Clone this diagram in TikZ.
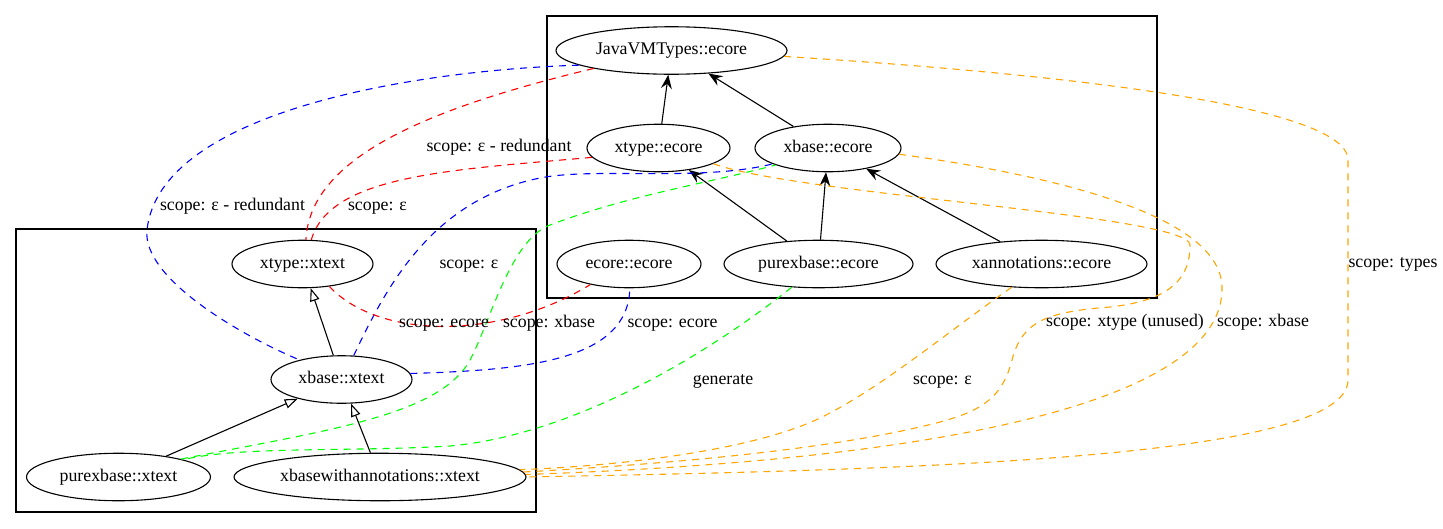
\documentclass[tikz,border=0pt]{standalone}
\usepackage{fontspec}
\setmainfont{Liberation Serif}
\usetikzlibrary{arrows.meta,shapes.geometric}

\definecolor{gvgreen}{RGB}{0,255,0}
\definecolor{gvorange}{RGB}{255,165,0}

\begin{document}
\begin{tikzpicture}[x=1pt,y=-1pt,
        font=\fontsize{17.8}{20}\selectfont,
        every node/.style={inner sep=0pt,text height=12.5pt,text depth=4pt},
        mod/.style={ellipse,draw,line width=1.1pt,minimum height=47.5pt},
        uses/.style={-{Stealth[length=14pt,width=11pt,inset=5pt]},line width=1.1pt},
        extends/.style={-{Triangle[open,length=13pt,width=9.5pt]},line width=1.1pt},
        ref/.style={dash pattern=on 7pt off 6pt,line width=1.1pt}]

  \useasboundingbox (0,0) rectangle (1443,528);

  % clusters
  \draw[line width=1.1pt] (547,16) rectangle (1157,298);
  \draw[line width=1.1pt] (16,229) rectangle (536,512);

  % ecore models
  \node[mod,minimum width=231pt] (jvm) at (671.5,50.5) {JavaVMTypes::ecore};
  \node[mod,minimum width=143pt] (xte) at (658.5,148) {xtype::ecore};
  \node[mod,minimum width=146pt] (xbe) at (828,148) {xbase::ecore};
  \node[mod,minimum width=144pt] (ece) at (629,264) {ecore::ecore};
  \node[mod,minimum width=189pt] (pxe) at (818.5,264) {purexbase::ecore};
  \node[mod,minimum width=211pt] (xae) at (1041.5,264) {xannotations::ecore};

  % xtext grammars
  \node[mod,minimum width=141pt] (xtx) at (302.5,264) {xtype::xtext};
  \node[mod,minimum width=141pt] (xbx) at (341.5,379.5) {xbase::xtext};
  \node[mod,minimum width=184pt] (pxx) at (118.5,477) {purexbase::xtext};
  \node[mod,minimum width=292pt] (xwx) at (380,477) {xbasewithannotations::xtext};

  \draw[uses] (xte) -- (jvm);
  \draw[uses] (xbe) -- (jvm);
  \draw[uses] (pxe) -- (xte);
  \draw[uses] (pxe) -- (xbe);
  \draw[uses] (xae) -- (xbe);

  \draw[extends] (xbx) -- (xtx);
  \draw[extends] (pxx) -- (xbx);
  \draw[extends] (xwx) -- (xbx);

  % blue
  \draw[ref,blue] (jvm.189) .. controls (420,70) and (160,110) .. (147,230)
        .. controls (142,278) and (240,335) .. (xbx.155);
  \draw[ref,blue] (xbx.63) .. controls (385,290) and (430,200) .. (540,178)
        .. controls (595,167) and (700,182) .. (xbe.196);
  \draw[ref,blue] (xbx.5) .. controls (530,370) and (628,360) .. (ece.272);

  % red
  \draw[ref,red] (jvm.193) .. controls (420,110) and (310,160) .. (xtx.82);
  \draw[ref,red] (xte.188) .. controls (450,170) and (330,175) .. (xtx.70);
  \draw[ref,red] (xtx.320) .. controls (380,340) and (500,340) .. (ece.208);

  % green
  \draw[ref,gvgreen] (pxx.16) .. controls (330,430) and (440,415) .. (470,360)
        .. controls (490,323) and (510,240) .. (550,225)
        .. controls (630,195) and (700,185) .. (xbe.198);
  \draw[ref,gvgreen] (pxe.221) .. controls (700,360) and (570,435) .. (450,446)
        .. controls (350,452) and (240,446) .. (pxx.15);

  % orange
  \draw[ref,gvorange] (jvm.357) .. controls (1000,70) and (1348,100) .. (1348,160)
        -- (1348,380) .. controls (1348,460) and (900,470) .. (xwx.0);
  \draw[ref,gvorange] (xbe.355) .. controls (1050,175) and (1225,215) .. (1222,290)
        .. controls (1220,400) and (950,460) .. (xwx.1);
  \draw[ref,gvorange] (xte.344) .. controls (800,195) and (1190,215) .. (1190,245)
        .. controls (1190,275) and (1175,300) .. (1110,307)
        .. controls (1045,312) and (1022,322) .. (1012,360)
        .. controls (1003,395) and (985,410) .. (940,422)
        .. controls (830,451) and (650,465) .. (xwx.2);
  \draw[ref,gvorange] (xae.218) .. controls (950,330) and (880,389) .. (820,418)
        .. controls (760,447) and (640,465) .. (xwx.3);

  % labels
  \node (lblJvmXb) at (232.5,206) {scope: ε - redundant};
  \node (lblJvmXt) at (499,147) {scope: ε - redundant};
  \node (lblXtXt) at (377.5,206) {scope: ε};
  \node (lblXbXb) at (469,264) {scope: ε};
  \node (lblXtEc) at (444,323) {scope: ecore};
  \node (lblPxXb) at (549,323) {scope: xbase};
  \node (lblXbEc) at (672.5,323) {scope: ecore};
  \node (lblGen) at (723,380) {generate};
  \node (lblXa) at (942.5,380) {scope: ε};
  \node (lblXt) at (1125,322) {scope: xtype (unused)};
  \node (lblXb) at (1263,322) {scope: xbase};
  \node (lblTypes) at (1393,263) {scope: types};

\end{tikzpicture}
\end{document}
